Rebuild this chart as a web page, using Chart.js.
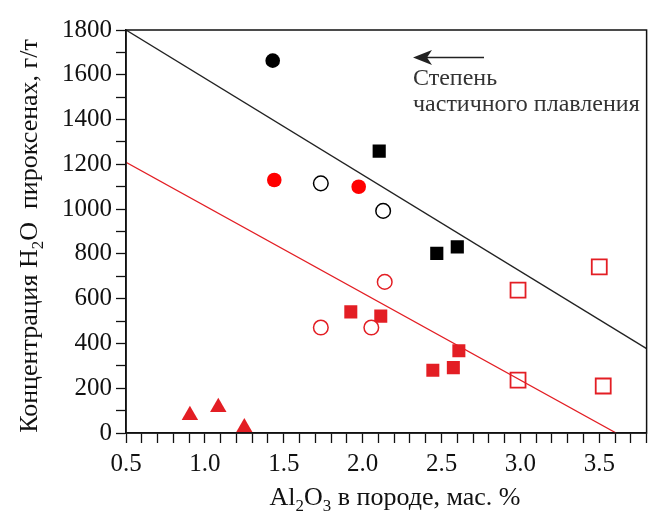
<!DOCTYPE html>
<html>
<head>
<meta charset="utf-8">
<script src="https://cdn.jsdelivr.net/npm/chart.js@4"></script>
<style>
  html, body { margin: 0; padding: 0; background: #fff; }
  #wrap { width: 659px; height: 512px; }
</style>
</head>
<body>
<div id="wrap"><canvas id="chart" width="659" height="512"></canvas></div>
<script>
// значения
const blackCircleX = [1.43], blackCircleY = [1663];
const redCircleX = [1.44, 1.975], redCircleY = [1130, 1100];
const blackOpenX = [1.735, 2.13], blackOpenY = [1115, 992];
const blackSquareX = [2.105, 2.47, 2.60], blackSquareY = [1259, 802, 831];
const redOpenX = [2.14, 1.735, 2.055], redOpenY = [675, 471, 471];
const redSquareX = [1.925, 2.115, 2.61, 2.445, 2.575], redSquareY = [541, 522, 367, 280, 292];
const redOpenSqX = [2.985, 3.50, 2.985, 3.525], redOpenSqY = [638, 742, 236, 210];
const triangleX = [0.905, 1.085, 1.25], triangleY = [79, 115, 25];

const blackLineX = [0.5, 3.8], blackLineY = [1800, 377];
const redLineX = [0.5, 3.607], redLineY = [1209, 0];

const xTicks = [0.5, 1.0, 1.5, 2.0, 2.5, 3.0, 3.5];
const yTicks = [0, 200, 400, 600, 800, 1000, 1200, 1400, 1600, 1800];

const RED = "#e31e24";
const FONT = "'Liberation Serif', 'Times New Roman', serif";

function pts(xs, ys) {
  return xs.map((x, i) => ({ x: x, y: ys[i] }));
}

function drawRuns(ctx, runs, size) {
  let w = 0;
  runs.forEach(r => {
    ctx.font = (r[1] ? size * 0.65 : size) + "px " + FONT;
    w += ctx.measureText(r[0]).width;
  });
  let x = -w / 2;
  runs.forEach(r => {
    ctx.font = (r[1] ? size * 0.65 : size) + "px " + FONT;
    ctx.fillText(r[0], x, r[1] ? size * 0.22 : 0);
    x += ctx.measureText(r[0]).width;
  });
}

const extras = {
  id: "extras",
  afterDraw(chart) {
    const ctx = chart.ctx, a = chart.chartArea;
    ctx.save();
    // рамка
    ctx.strokeStyle = "#111";
    ctx.lineWidth = 1.5;
    ctx.strokeRect(a.left, a.top, a.right - a.left, a.bottom - a.top);

    ctx.fillStyle = "#111";
    ctx.textBaseline = "alphabetic";
    ctx.textAlign = "left";

    // подписи осей
    ctx.save();
    ctx.translate(395, 505);
    drawRuns(ctx, [["Al", false], ["2", true], ["O", false], ["3", true], [" в породе, мас. %", false]], 26);
    ctx.restore();

    ctx.save();
    ctx.translate(37, 236);
    ctx.rotate(-Math.PI / 2);
    drawRuns(ctx, [["Концентрация H", false], ["2", true], ["O  пироксенах, г/т", false]], 26);
    ctx.restore();

    // стрелка и надпись
    ctx.strokeStyle = "#222";
    ctx.lineWidth = 1.3;
    ctx.beginPath();
    ctx.moveTo(425, 57.5);
    ctx.lineTo(484, 57.5);
    ctx.stroke();
    ctx.fillStyle = "#222";
    ctx.beginPath();
    ctx.moveTo(413, 57.5);
    ctx.lineTo(432, 50);
    ctx.lineTo(427, 57.5);
    ctx.lineTo(432, 65);
    ctx.closePath();
    ctx.fill();

    ctx.fillStyle = "#333";
    ctx.font = "24px " + FONT;
    ctx.fillText("Степень", 413, 85);
    ctx.fillText("частичного плавления", 413, 111);
    ctx.restore();
  }
};

new Chart(document.getElementById("chart").getContext("2d"), {
  type: "scatter",
  data: {
    datasets: [
      { data: pts(blackLineX, blackLineY), showLine: true, borderColor: "#222", borderWidth: 1.3, pointRadius: 0 },
      { data: pts(redLineX, redLineY), showLine: true, borderColor: RED, borderWidth: 1.3, pointRadius: 0 },
      { data: pts(blackCircleX, blackCircleY), pointStyle: "circle", pointRadius: 7.3, backgroundColor: "#000", borderColor: "#000", borderWidth: 0 },
      { data: pts(redCircleX, redCircleY), pointStyle: "circle", pointRadius: 7.3, backgroundColor: "#ff0000", borderColor: "#ff0000", borderWidth: 0 },
      { data: pts(blackOpenX, blackOpenY), pointStyle: "circle", pointRadius: 7.3, backgroundColor: "#fff", borderColor: "#000", borderWidth: 1.5 },
      { data: pts(blackSquareX, blackSquareY), pointStyle: "rect", pointRadius: 9.3, backgroundColor: "#000", borderColor: "#000", borderWidth: 0 },
      { data: pts(redOpenX, redOpenY), pointStyle: "circle", pointRadius: 7.3, backgroundColor: "#fff", borderColor: RED, borderWidth: 1.5 },
      { data: pts(redSquareX, redSquareY), pointStyle: "rect", pointRadius: 9.2, backgroundColor: RED, borderColor: RED, borderWidth: 0 },
      { data: pts(redOpenSqX, redOpenSqY), pointStyle: "rect", pointRadius: 10.6, backgroundColor: "#fff", borderColor: RED, borderWidth: 1.8 },
      { data: pts(triangleX, triangleY), pointStyle: "triangle", pointRadius: 9.5, backgroundColor: RED, borderColor: RED, borderWidth: 0 }
    ]
  },
  options: {
    responsive: false,
    animation: false,
    events: [],
    layout: { padding: { top: 30, right: 8, left: 0, bottom: 0 } },
    plugins: { legend: { display: false }, tooltip: { enabled: false } },
    scales: {
      x: {
        type: "linear",
        min: 0.5,
        max: 3.8,
        afterFit: s => { s.height = 79; s.paddingLeft = 0; s.paddingRight = 0; },
        border: { display: true, color: "#111", width: 1.5 },
        grid: { drawOnChartArea: false, tickLength: 10, color: "#111", tickWidth: 1.3 },
        ticks: {
          stepSize: 0.1,
          autoSkip: false,
          maxRotation: 0,
          padding: 6,
          color: "#111",
          font: { family: FONT, size: 25 },
          callback: v => xTicks.some(t => Math.abs(t - v) < 1e-6) ? v.toFixed(1) : ""
        }
      },
      y: {
        type: "linear",
        min: 0,
        max: 1800,
        afterFit: s => { s.width = 126; },
        border: { display: true, color: "#111", width: 1.5 },
        grid: { drawOnChartArea: false, tickLength: 10, color: "#111", tickWidth: 1.3 },
        ticks: {
          stepSize: 100,
          autoSkip: false,
          padding: 4,
          color: "#111",
          font: { family: FONT, size: 25 },
          callback: v => yTicks.includes(v) ? String(v) : ""
        }
      }
    }
  },
  plugins: [extras]
});
</script>
</body>
</html>
